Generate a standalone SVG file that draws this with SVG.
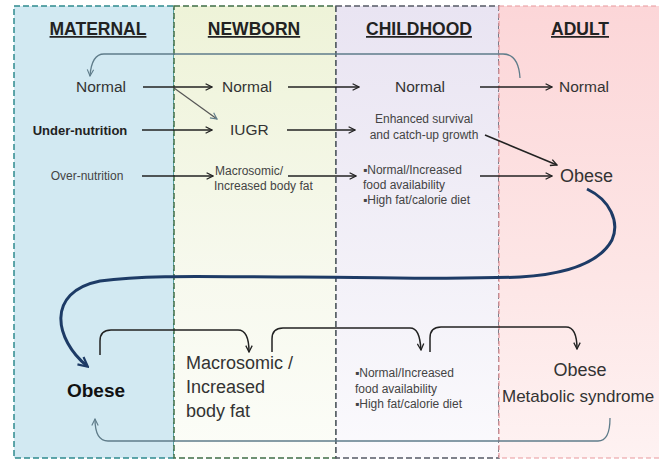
<svg xmlns="http://www.w3.org/2000/svg" width="659" height="459" viewBox="0 0 659 459">
<defs>
<linearGradient id="gNb" x1="0" y1="0" x2="0" y2="1"><stop offset="0" stop-color="#eef3d8"/><stop offset="0.6" stop-color="#f7f9ee"/><stop offset="1" stop-color="#fcfdf8"/></linearGradient>
<linearGradient id="gCh" x1="0" y1="0" x2="0" y2="1"><stop offset="0" stop-color="#e9e4f2"/><stop offset="0.6" stop-color="#f3f1f8"/><stop offset="1" stop-color="#fbfafd"/></linearGradient>
<linearGradient id="gAd" x1="0" y1="0" x2="0" y2="1"><stop offset="0" stop-color="#fcd6d8"/><stop offset="0.6" stop-color="#fde6e6"/><stop offset="1" stop-color="#fef2f2"/></linearGradient>
<marker id="ah" viewBox="0 0 10 10" refX="9" refY="5" markerWidth="8" markerHeight="8" orient="auto" markerUnits="userSpaceOnUse"><path d="M1,1 L9,5 L1,9" fill="none" stroke="#222" stroke-width="1.6"/></marker>
<marker id="ahg" viewBox="0 0 10 10" refX="9" refY="5" markerWidth="8" markerHeight="8" orient="auto" markerUnits="userSpaceOnUse"><path d="M1,1 L9,5 L1,9" fill="none" stroke="#5f7c8a" stroke-width="1.4"/></marker>
<marker id="ahb" viewBox="0 0 10 10" refX="8" refY="5" markerWidth="12" markerHeight="12" orient="auto" markerUnits="userSpaceOnUse"><path d="M1,1 L9,5 L1,9" fill="none" stroke="#1d3b66" stroke-width="1.8"/></marker>
</defs>
<style>
text{font-family:"Liberation Sans",Arial,sans-serif;fill:#333}
.hd{font-size:17.5px;font-weight:bold;text-decoration:underline;text-anchor:middle;fill:#222}
.n{font-size:15.5px}
.s{font-size:12px;fill:#444}
.b{font-size:18px}
.a{fill:none;stroke:#222;stroke-width:1.5;marker-end:url(#ah)}
.fb{fill:none;stroke:#5f7c8a;stroke-width:1.3;marker-end:url(#ahg)}
</style>
<rect x="0" y="0" width="659" height="459" fill="#fff"/>
<g id="panel-maternal"><rect x="14" y="6" width="160" height="452" fill="#d2e9f2" stroke="#2f8a8e" stroke-width="1.5" stroke-dasharray="6,3"/><text class="hd" x="98" y="35">MATERNAL</text></g>
<g id="panel-newborn"><rect x="174" y="6" width="162" height="452" fill="url(#gNb)" stroke="#3f6e46" stroke-width="1.5" stroke-dasharray="6,3"/><text class="hd" x="254" y="35">NEWBORN</text></g>
<g id="panel-childhood"><rect x="336" y="6" width="163" height="452" fill="url(#gCh)" stroke="#555a66" stroke-width="1.5" stroke-dasharray="6,3"/><text class="hd" x="419" y="35">CHILDHOOD</text></g>
<g id="panel-adult"><rect x="499" y="6" width="162" height="452" fill="url(#gAd)" stroke="#e8979c" stroke-width="1.2" stroke-dasharray="5,3"/><text class="hd" x="580" y="35">ADULT</text></g>

<g id="n-mat-normal"><text class="n" x="101" y="92" text-anchor="middle">Normal</text></g>
<g id="n-mat-under"><text x="80" y="135" text-anchor="middle" style="font-size:13px;font-weight:bold;fill:#222">Under-nutrition</text></g>
<g id="n-mat-over"><text class="s" x="87" y="180" text-anchor="middle">Over-nutrition</text></g>
<g id="n-nb-normal"><text class="n" x="222" y="92">Normal</text></g>
<g id="n-nb-iugr"><text class="n" x="230" y="135">IUGR</text></g>
<g id="n-nb-macro"><text class="s" x="215" y="175">Macrosomic/</text><text class="s" x="214" y="190">Increased body fat</text></g>
<g id="n-ch-normal"><text class="n" x="420" y="92" text-anchor="middle">Normal</text></g>
<g id="n-ch-enh"><text class="s" x="424" y="123" text-anchor="middle">Enhanced survival</text><text class="s" x="424" y="139" text-anchor="middle">and catch-up growth</text></g>
<g id="n-ch-food"><text class="s" x="363" y="174">▪Normal/Increased</text><text class="s" x="363" y="189">food availability</text><text class="s" x="363" y="204">▪High fat/calorie diet</text></g>
<g id="n-ad-normal"><text class="n" x="559" y="92">Normal</text></g>
<g id="n-ad-obese"><text class="b" x="560" y="182">Obese</text></g>

<g id="n-b-obese"><text x="96" y="397" text-anchor="middle" style="font-size:19px;font-weight:bold;fill:#111">Obese</text></g>
<g id="n-b-macro"><text class="b" x="186" y="369">Macrosomic /</text><text class="b" x="186" y="393">Increased</text><text class="b" x="186" y="417">body fat</text></g>
<g id="n-b-food"><text class="s" x="355" y="377">▪Normal/Increased</text><text class="s" x="355" y="393">food availability</text><text class="s" x="355" y="408">▪High fat/calorie diet</text></g>
<g id="n-b-adult"><text class="b" x="580" y="376" text-anchor="middle">Obese</text><text x="502" y="402" style="font-size:17px">Metabolic syndrome</text></g>

<g id="connectors">
<path class="a" d="M143,87 H212"/>
<path fill="none" stroke="#555" stroke-width="1.2" marker-end="url(#ahg)" d="M174,88 L217,119"/>
<path class="a" d="M288,87 H359"/>
<path class="a" d="M480,87 H552"/>
<path class="a" d="M142,130 H212"/>
<path class="a" d="M287,130 H355"/>
<path class="a" d="M485,135 L557,165"/>
<path class="a" d="M142,176 H213"/>
<path class="a" d="M288,176 H356"/>
<path class="a" d="M480,176 H552"/>
<path class="fb" d="M520,78 C519,62 514,54 503,54 H104 C96,54 91,62 90,76"/>
<path fill="none" stroke="#1d3b66" stroke-width="3" marker-end="url(#ahb)" d="M587,189 C610,200 620,222 612,240 C600,262 570,274 520,277 C450,280 380,277 300,277 C220,277 150,274 100,281 C45,292 55,340 87,366"/>
<path class="a" d="M100,355 V341 C100,334 104,330 111,330 H238 C245,330 249,337 249,352"/>
<path class="a" d="M272,352 V339 C272,332 276,328 283,328 H410 C417,328 420,335 421,350"/>
<path class="a" d="M430,352 V338 C430,331 434,327 441,327 H566 C573,327 577,334 577,349"/>
<path class="fb" d="M610,418 C610,432 607,441 598,441 H108 C99,441 95,432 95,419"/>
</g>
</svg>
